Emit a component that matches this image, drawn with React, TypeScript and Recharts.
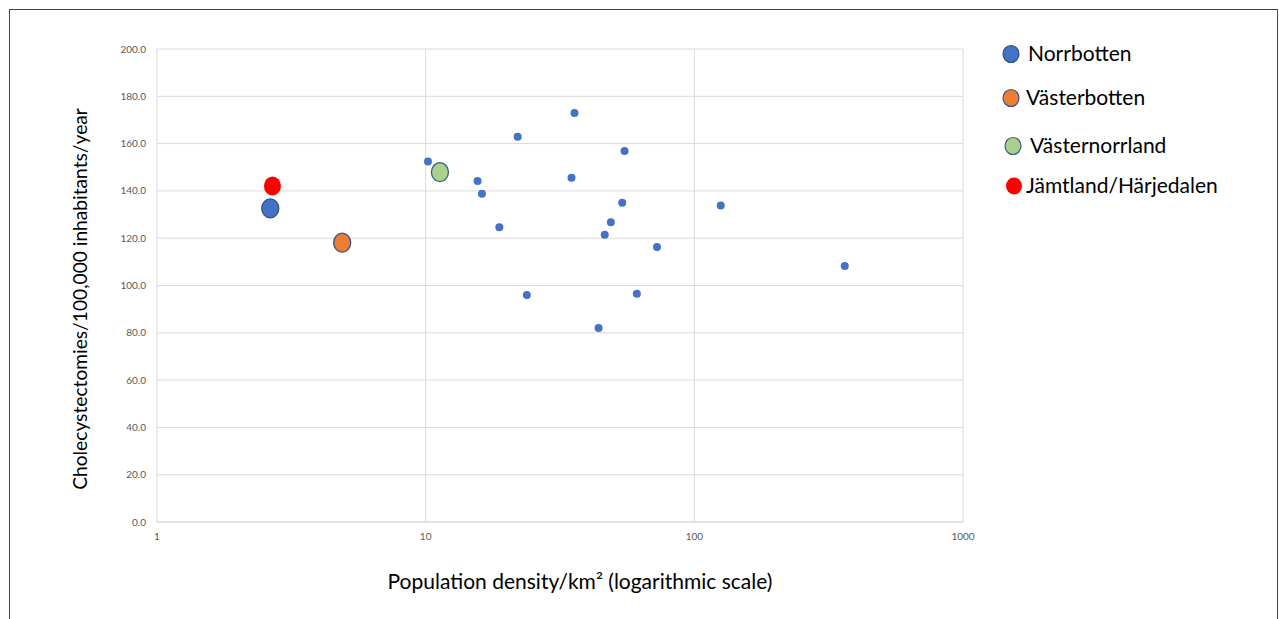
import React from 'react';
import {
  ScatterChart,
  Scatter,
  XAxis,
  YAxis,
  CartesianGrid,
  Legend,
  Label,
} from 'recharts';

if (typeof document !== 'undefined') {
  document.body.style.margin = '0';
  document.body.style.overflow = 'hidden';
}

const xTicks = [1, 10, 100, 1000];
const yTicks = [0, 20, 40, 60, 80, 100, 120, 140, 160, 180, 200];

const norrbotten = [{ x: 2.64, y: 132.6 }];
const vasterbotten = [{ x: 4.89, y: 118.1 }];
const vasternorrland = [{ x: 11.3, y: 147.9 }];
const jamtland = [{ x: 2.69, y: 142.1 }];
const otherCounties = [
  { x: 10.2, y: 152.4 },
  { x: 15.6, y: 144.2 },
  { x: 16.2, y: 138.8 },
  { x: 18.8, y: 124.6 },
  { x: 22.0, y: 162.9 },
  { x: 23.8, y: 96.0 },
  { x: 34.9, y: 145.6 },
  { x: 35.8, y: 172.9 },
  { x: 44.0, y: 82.0 },
  { x: 46.4, y: 121.5 },
  { x: 48.9, y: 126.7 },
  { x: 53.9, y: 135.0 },
  { x: 55.0, y: 156.9 },
  { x: 61.1, y: 96.5 },
  { x: 72.6, y: 116.3 },
  { x: 125.4, y: 133.8 },
  { x: 363, y: 108.2 },
];

const legendItems = [
  { name: 'Norrbotten', color: '#4472C4', stroke: '#2F4F8F' },
  { name: 'Västerbotten', color: '#ED7D31', stroke: '#3F4F8F' },
  { name: 'Västernorrland', color: '#A9D18E', stroke: '#3F5A7F' },
  { name: 'Jämtland/Härjedalen', color: '#FF0000', stroke: 'none' },
];

const FONT = 'Lato, "Open Sans", sans-serif';

const bigShape = (fill: string, stroke: string) => (props: any) => {
  const { cx, cy } = props;
  if (cx == null || cy == null) return <g />;
  return (
    <ellipse
      cx={cx}
      cy={cy}
      rx={8.5}
      ry={9.5}
      fill={fill}
      stroke={stroke}
      strokeWidth={stroke === 'none' ? 0 : 1.3}
    />
  );
};

const smallShape = (props: any) => {
  const { cx, cy } = props;
  if (cx == null || cy == null) return <g />;
  return <circle cx={cx} cy={cy} r={4} fill="#4472C4" />;
};

const legendPos = [
  { cx: 16, cy: 24, tx: 33 },
  { cx: 16, cy: 68, tx: 31 },
  { cx: 18, cy: 116, tx: 35 },
  { cx: 19, cy: 156, tx: 31 },
];

const renderLegend = () => (
  <svg width={284} height={190}>
    {legendItems.map((it, i) => (
      <g key={it.name}>
        <ellipse
          cx={legendPos[i].cx}
          cy={legendPos[i].cy}
          rx={8}
          ry={8.5}
          fill={it.color}
          stroke={it.stroke}
          strokeWidth={it.stroke === 'none' ? 0 : 1.2}
        />
        <text
          x={legendPos[i].tx}
          y={legendPos[i].cy}
          dy="0.35em"
          fontSize={21}
          fontFamily={FONT}
          fill="#000"
        >
          {it.name}
        </text>
      </g>
    ))}
  </svg>
);

export default function App() {
  return (
    <div style={{ position: 'relative', width: 1279, height: 619, overflow: 'hidden', background: '#fff' }}>
      <div
        style={{
          position: 'absolute',
          left: 9,
          top: 9,
          width: 1269,
          height: 700,
          border: '1.5px solid #444',
          boxSizing: 'border-box',
        }}
      />
      <div style={{ position: 'absolute', left: 0, top: 0 }}>
        <ScatterChart width={1279} height={619} margin={{ top: 49, right: 316, bottom: 67, left: 97 }}>
          <CartesianGrid stroke="#D9D9D9" strokeWidth={1} />
          <XAxis
            type="number"
            dataKey="x"
            scale="log"
            domain={[1, 1000]}
            ticks={xTicks}
            allowDataOverflow
            tickLine={false}
            tickMargin={5}
            axisLine={{ stroke: '#D9D9D9' }}
            tick={{ fontSize: 10, fill: '#595959', fontFamily: FONT }}
            height={30}
          >
            <Label
              content={() => (
                <text
                  x={580}
                  y={582}
                  dy="0.35em"
                  textAnchor="middle"
                  fontSize={21}
                  fontFamily={FONT}
                  fill="#000"
                >
                  Population density/km² (logarithmic scale)
                </text>
              )}
            />
          </XAxis>
          <YAxis
            type="number"
            dataKey="y"
            domain={[0, 200]}
            ticks={yTicks}
            tickFormatter={(v: number) => v.toFixed(1)}
            tickLine={false}
            tickMargin={5}
            axisLine={false}
            tick={{ fontSize: 10, fill: '#595959', fontFamily: FONT }}
            width={60}
          >
            <Label
              content={() => (
                <text
                  x={80}
                  y={299}
                  dy="0.35em"
                  textAnchor="middle"
                  fontSize={19.2}
                  fontFamily={FONT}
                  fill="#000"
                  transform="rotate(-90, 80, 299)"
                >
                  Cholecystectomies/100,000 inhabitants/year
                </text>
              )}
            />
          </YAxis>
          <Legend
            layout="vertical"
            align="center"
            verticalAlign="middle"
            content={renderLegend}
            wrapperStyle={{ position: 'absolute', left: 995, top: 30, width: 284, height: 190 }}
          />
          <Scatter name="Other counties" data={otherCounties} shape={smallShape} isAnimationActive={false} legendType="none" />
          <Scatter name="Norrbotten" data={norrbotten} shape={bigShape('#4472C4', '#2F4F8F')} isAnimationActive={false} />
          <Scatter name="Västerbotten" data={vasterbotten} shape={bigShape('#ED7D31', '#3F4F8F')} isAnimationActive={false} />
          <Scatter name="Västernorrland" data={vasternorrland} shape={bigShape('#A9D18E', '#3F5A7F')} isAnimationActive={false} />
          <Scatter name="Jämtland/Härjedalen" data={jamtland} shape={bigShape('#FF0000', 'none')} isAnimationActive={false} />
        </ScatterChart>
      </div>
    </div>
  );
}
